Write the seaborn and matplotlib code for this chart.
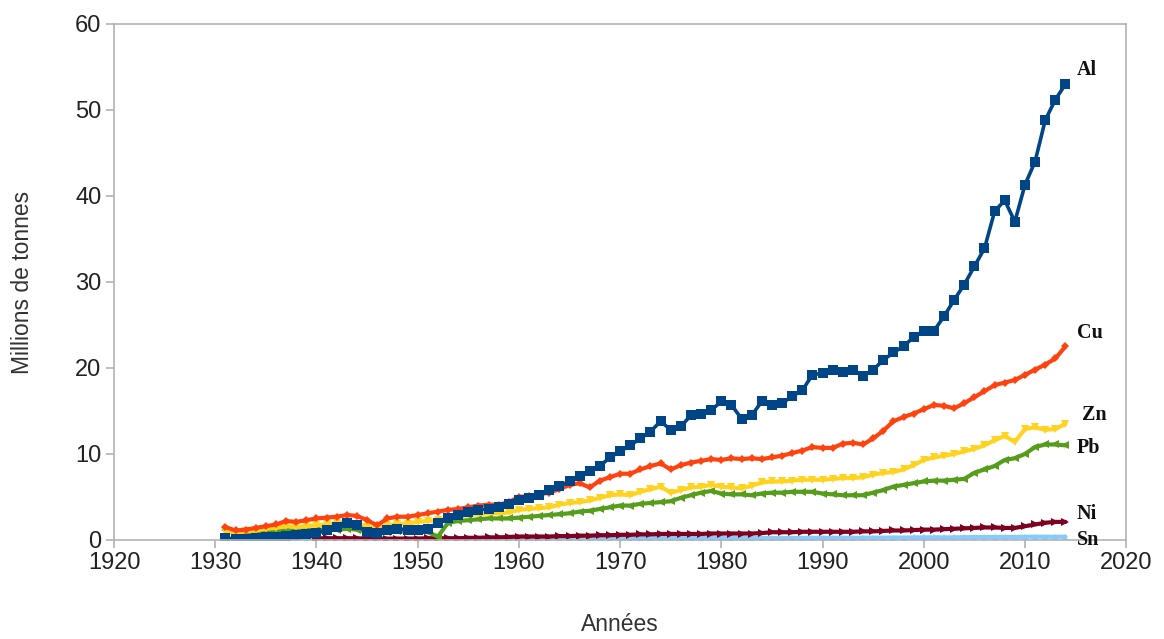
import numpy as np
import matplotlib
matplotlib.use("Agg")
import matplotlib.pyplot as plt
import seaborn as sns

years = list(range(1931, 2015))

al = [0.2, 0.15, 0.15, 0.2, 0.3, 0.4, 0.5, 0.6, 0.7, 0.8,
      1.1, 1.5, 2.0, 1.7, 0.9, 0.8, 1.1, 1.3, 1.2, 1.2,
      1.3, 2.0, 2.5, 2.9, 3.2, 3.5, 3.6, 3.8, 4.2, 4.6,
      4.9, 5.2, 5.8, 6.3, 6.8, 7.4, 8.0, 8.6, 9.6, 10.3,
      11.0, 11.8, 12.6, 13.8, 12.8, 13.2, 14.5, 14.7, 15.1, 16.1,
      15.7, 14.1, 14.5, 16.1, 15.7, 15.9, 16.7, 17.4, 19.2, 19.4,
      19.8, 19.5, 19.8, 19.1, 19.8, 20.9, 21.8, 22.5, 23.6, 24.3,
      24.3, 26.0, 27.9, 29.7, 31.8, 33.9, 38.2, 39.5, 37.0, 41.3,
      44.0, 48.8, 51.2, 53.0]
cu = [1.5, 1.1, 1.2, 1.4, 1.6, 1.8, 2.2, 2.1, 2.3, 2.5,
      2.6, 2.7, 2.9, 2.8, 2.3, 1.7, 2.5, 2.7, 2.7, 2.9,
      3.1, 3.3, 3.5, 3.6, 3.8, 4.0, 4.1, 4.1, 4.4, 5.0,
      5.1, 5.3, 5.5, 5.9, 6.4, 6.6, 6.1, 6.9, 7.3, 7.7,
      7.7, 8.2, 8.6, 8.9, 8.2, 8.7, 9.0, 9.2, 9.4, 9.3,
      9.5, 9.4, 9.5, 9.4, 9.6, 9.8, 10.1, 10.4, 10.8, 10.7,
      10.7, 11.2, 11.3, 11.1, 11.8, 12.7, 13.8, 14.3, 14.7, 15.2,
      15.7, 15.6, 15.3, 15.9, 16.6, 17.3, 18.0, 18.3, 18.6, 19.2,
      19.8, 20.4, 21.1, 22.5]
zn = [1.0, 0.8, 1.0, 1.1, 1.3, 1.4, 1.6, 1.5, 1.6, 1.7,
      1.8, 2.0, 2.1, 1.9, 1.5, 1.4, 1.7, 1.9, 1.9, 2.1,
      2.2, 2.3, 2.5, 2.7, 2.9, 3.0, 3.1, 3.1, 3.2, 3.5,
      3.6, 3.7, 3.8, 4.1, 4.3, 4.4, 4.6, 4.9, 5.2, 5.3,
      5.2, 5.6, 5.9, 6.2, 5.5, 5.8, 6.1, 6.2, 6.4, 6.2,
      6.1, 6.0, 6.3, 6.7, 6.8, 6.8, 6.9, 7.0, 7.0, 7.0,
      7.1, 7.2, 7.2, 7.3, 7.6, 7.8, 7.9, 8.2, 8.7, 9.3,
      9.6, 9.8, 10.0, 10.3, 10.6, 11.0, 11.6, 12.1, 11.4, 12.9,
      13.1, 12.8, 12.9, 13.5]
pb = [1.1, 0.8, 0.8, 0.9, 1.0, 1.0, 1.1, 1.1, 1.1, 1.2,
      1.2, 1.2, 1.3, 1.2, 1.0, 0.8, 0.9, 1.0, 1.0, 1.0,
      0.9, 0.4, 2.0, 2.2, 2.3, 2.4, 2.5, 2.5, 2.5, 2.6,
      2.7, 2.8, 2.9, 3.0, 3.1, 3.3, 3.4, 3.6, 3.8, 4.0,
      4.0, 4.2, 4.3, 4.4, 4.5, 4.9, 5.2, 5.5, 5.7, 5.4,
      5.3, 5.3, 5.2, 5.4, 5.5, 5.5, 5.6, 5.6, 5.6, 5.4,
      5.3, 5.2, 5.2, 5.2, 5.5, 5.8, 6.2, 6.4, 6.6, 6.8,
      6.9, 6.9, 7.0, 7.1, 7.8, 8.2, 8.6, 9.3, 9.5, 10.0,
      10.8, 11.1, 11.1, 11.0]
ni = [np.nan] * 9 + [0.15,
      0.2, 0.2, 0.2, 0.2, 0.15, 0.15, 0.15, 0.15, 0.15, 0.15,
      0.2, 0.2, 0.2, 0.2, 0.25, 0.25, 0.3, 0.3, 0.35, 0.4,
      0.4, 0.4, 0.4, 0.45, 0.45, 0.5, 0.5, 0.55, 0.55, 0.6,
      0.6, 0.65, 0.65, 0.7, 0.7, 0.7, 0.7, 0.7, 0.75, 0.75,
      0.75, 0.75, 0.75, 0.8, 0.9, 0.9, 0.9, 0.95, 0.95, 0.95,
      0.95, 0.95, 0.95, 1.0, 1.0, 1.05, 1.1, 1.1, 1.15, 1.2,
      1.2, 1.25, 1.3, 1.35, 1.4, 1.45, 1.45, 1.4, 1.4, 1.6,
      1.8, 2.0, 2.1, 2.1]
sn = [0.15, 0.1, 0.1, 0.12, 0.14, 0.18, 0.2, 0.15, 0.18, 0.22,
      0.24, 0.15, 0.14, 0.1, 0.09, 0.09, 0.12, 0.15, 0.16, 0.17,
      0.17, 0.17, 0.18, 0.18, 0.18, 0.18, 0.18, 0.16, 0.17, 0.18,
      0.18, 0.19, 0.19, 0.2, 0.2, 0.2, 0.2, 0.21, 0.22, 0.23,
      0.23, 0.24, 0.24, 0.24, 0.23, 0.24, 0.24, 0.25, 0.25, 0.25,
      0.25, 0.24, 0.22, 0.22, 0.21, 0.21, 0.22, 0.23, 0.24, 0.25,
      0.25, 0.25, 0.25, 0.26, 0.27, 0.27, 0.28, 0.28, 0.29, 0.3,
      0.3, 0.3, 0.3, 0.32, 0.34, 0.34, 0.35, 0.35, 0.35, 0.37,
      0.38, 0.37, 0.37, 0.38]

metals = ["Sn", "Ni", "Pb", "Zn", "Cu", "Al"]
series = {"Al": al, "Cu": cu, "Zn": zn, "Pb": pb, "Ni": ni, "Sn": sn}
colors = {"Al": "#004586", "Cu": "#ff420e", "Zn": "#ffd320",
          "Pb": "#579d1c", "Ni": "#7e0021", "Sn": "#83caff"}
markers = {"Al": "s", "Cu": "D", "Zn": "v", "Pb": "<", "Ni": ">", "Sn": "^"}
msizes = {"Al": 7.5, "Cu": 4.5, "Zn": 5.5, "Pb": 5.5, "Ni": 5.5, "Sn": 5}
label_pos = {"Al": (2015.1, 54.7), "Cu": (2015.1, 24.1), "Zn": (2015.6, 14.5),
             "Pb": (2015.1, 10.7), "Ni": (2015.1, 3.0), "Sn": (2015.1, 0.0)}

sns.set_style("white")
plt.rcParams["font.family"] = ["Liberation Sans", "DejaVu Sans"]

fig = plt.figure(figsize=(11.64, 6.39), dpi=100)
ax = fig.add_axes([0.098, 0.155, 0.8695, 0.8075])

for m in metals:
    sns.lineplot(x=years, y=series[m], ax=ax, color=colors[m],
                 marker=markers[m], markersize=msizes[m],
                 markeredgewidth=0, linewidth=2.6 if m == "Al" else 3.0,
                 legend=False)

for m in metals:
    x, y = label_pos[m]
    ax.text(x, y, m, fontsize=14.5, fontweight="bold", color="#111111",
            family=["Liberation Serif", "DejaVu Serif"], va="center", ha="left")

ax.set_xlim(1920, 2020)
ax.set_ylim(0, 60)
ax.set_xticks(range(1920, 2021, 10))
ax.set_yticks(range(0, 61, 10))
for s in ax.spines.values():
    s.set_color("#b3b3b3")
    s.set_linewidth(1.2)
ax.tick_params(axis="both", which="both", direction="out", length=6,
               width=1.2, color="#b3b3b3", labelsize=17, labelcolor="#222222",
               left=True, bottom=True, pad=3)
ax.set_xlabel("Années", fontsize=16.5, color="#333333", labelpad=28)
ax.set_ylabel("Millions de tonnes", fontsize=16.5, color="#333333", labelpad=30)
ax.grid(False)

fig.savefig("out.png", dpi=100)
